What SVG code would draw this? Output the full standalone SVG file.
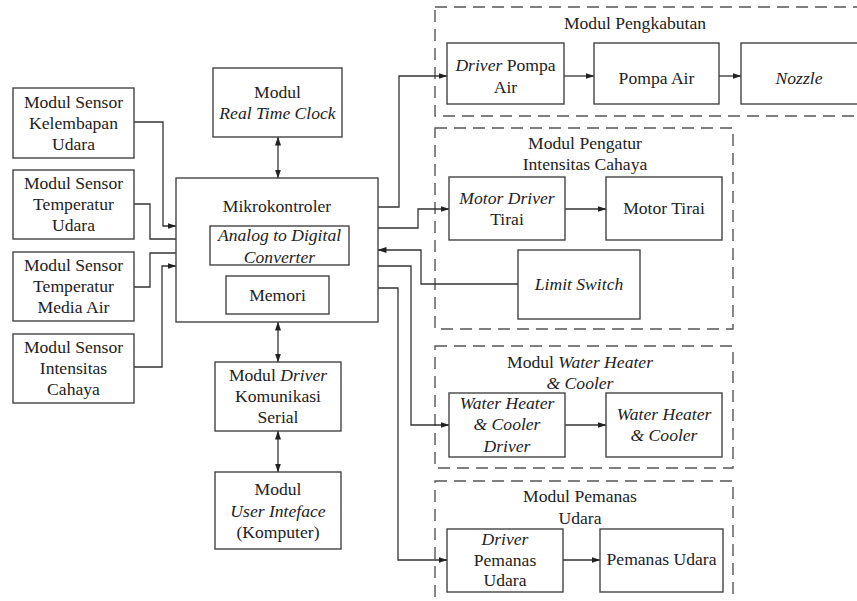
<svg xmlns="http://www.w3.org/2000/svg" width="857" height="601" viewBox="0 0 857 601">
<defs>
<marker id="ah" markerUnits="userSpaceOnUse" markerWidth="9" markerHeight="7" refX="8.5" refY="3.5" orient="auto-start-reverse">
<path d="M0,0.5 L9,3.5 L0,6.5 z" fill="#222"/>
</marker>
</defs>
<style>
.b{fill:#fff;stroke:#444;stroke-width:1.4}
.d{fill:none;stroke:#555;stroke-width:1.4;stroke-dasharray:12 7}
.c{fill:none;stroke:#333;stroke-width:1.3}
.a{marker-end:url(#ah)}
.aa{marker-start:url(#ah);marker-end:url(#ah)}
text{font-family:"Liberation Serif","Times New Roman",serif;font-size:17.6px;fill:#222;text-anchor:middle}
.i{font-style:italic}
</style>
<rect width="857" height="601" fill="#fff"/>

<g id="mod-pengkabutan">
<rect class="d" x="435" y="7" width="440" height="109"/>
<text x="635" y="29">Modul Pengkabutan</text>
</g>
<g id="mod-pengatur">
<rect class="d" x="435" y="128" width="298" height="201"/>
<text x="585" y="149">Modul Pengatur</text>
<text x="585" y="170">Intensitas Cahaya</text>
</g>
<g id="mod-waterheater">
<rect class="d" x="435" y="346" width="298" height="122"/>
<text x="580" y="368">Modul <tspan class="i">Water Heater</tspan></text>
<text x="580" y="389" class="i">&amp; Cooler</text>
</g>
<g id="mod-pemanas">
<rect class="d" x="435" y="481" width="298" height="140"/>
<text x="580" y="502">Modul Pemanas</text>
<text x="580" y="524">Udara</text>
</g>

<g id="connectors">
<polyline class="c a" points="134,122 163,122 163,226 176,226"/>
<polyline class="c a" points="134,204 150,204 150,239 210,239"/>
<polyline class="c a" points="134,287 150,287 150,253 210,253"/>
<polyline class="c a" points="134,367 162,367 162,266 176,266"/>
<line class="c aa" x1="278" y1="137" x2="278" y2="178"/>
<line class="c aa" x1="278" y1="322" x2="278" y2="362"/>
<line class="c aa" x1="278" y1="431" x2="278" y2="472"/>
<polyline class="c a" points="378,207 399,207 399,76 447,76"/>
<polyline class="c a" points="378,228 418,228 418,209 449,209"/>
<polyline class="c a" points="518,284 421,284 421,250 378,250"/>
<polyline class="c a" points="378,266 411,266 411,425 449,425"/>
<polyline class="c a" points="378,288 398,288 398,560 447,560"/>
<line class="c a" x1="564" y1="76" x2="594" y2="76"/>
<line class="c a" x1="719" y1="76" x2="741" y2="76"/>
<line class="c a" x1="565" y1="209" x2="606" y2="209"/>
<line class="c a" x1="565" y1="425" x2="606" y2="425"/>
<line class="c a" x1="563" y1="560" x2="600" y2="560"/>
</g>

<g id="sensor-kelembapan">
<rect class="b" x="13" y="88" width="121" height="70"/>
<text x="73.5" y="108">Modul Sensor</text>
<text x="73.5" y="129">Kelembapan</text>
<text x="73.5" y="150">Udara</text>
</g>
<g id="sensor-temperatur-udara">
<rect class="b" x="13" y="170" width="121" height="69"/>
<text x="73.5" y="189">Modul Sensor</text>
<text x="73.5" y="210">Temperatur</text>
<text x="73.5" y="231">Udara</text>
</g>
<g id="sensor-temperatur-air">
<rect class="b" x="13" y="252" width="121" height="69"/>
<text x="73.5" y="271">Modul Sensor</text>
<text x="73.5" y="292">Temperatur</text>
<text x="73.5" y="313">Media Air</text>
</g>
<g id="sensor-intensitas">
<rect class="b" x="13" y="334" width="121" height="69"/>
<text x="73.5" y="353">Modul Sensor</text>
<text x="73.5" y="374">Intensitas</text>
<text x="73.5" y="395">Cahaya</text>
</g>

<g id="rtc">
<rect class="b" x="213" y="68" width="129" height="69"/>
<text x="277.5" y="98">Modul</text>
<text x="277.5" y="119" class="i">Real Time Clock</text>
</g>
<g id="mikrokontroler">
<rect class="b" x="176" y="178" width="202" height="144"/>
<text x="277" y="212">Mikrokontroler</text>
</g>
<g id="adc">
<rect class="b" x="210" y="226" width="139" height="39"/>
<text x="279.5" y="241" class="i">Analog to Digital</text>
<text x="279.5" y="263" class="i">Converter</text>
</g>
<g id="memori">
<rect class="b" x="226" y="276" width="103" height="38"/>
<text x="277.5" y="301">Memori</text>
</g>
<g id="driver-komunikasi">
<rect class="b" x="215" y="362" width="126" height="69"/>
<text x="278" y="381">Modul <tspan class="i">Driver</tspan></text>
<text x="278" y="402">Komunikasi</text>
<text x="278" y="423">Serial</text>
</g>
<g id="user-interface">
<rect class="b" x="215" y="472" width="126" height="77"/>
<text x="278" y="495">Modul</text>
<text x="278" y="517" class="i">User Inteface</text>
<text x="278" y="538">(Komputer)</text>
</g>

<g id="driver-pompa">
<rect class="b" x="447" y="43" width="117" height="61"/>
<text x="505.5" y="71"><tspan class="i">Driver</tspan> Pompa</text>
<text x="505.5" y="93">Air</text>
</g>
<g id="pompa-air">
<rect class="b" x="594" y="43" width="125" height="61"/>
<text x="656.5" y="84">Pompa Air</text>
</g>
<g id="nozzle">
<rect class="b" x="741" y="43" width="120" height="61"/>
<text x="799" y="84" class="i">Nozzle</text>
</g>

<g id="motor-driver">
<rect class="b" x="449" y="177" width="116" height="63"/>
<text x="507" y="204" class="i">Motor Driver</text>
<text x="507" y="225">Tirai</text>
</g>
<g id="motor-tirai">
<rect class="b" x="606" y="177" width="116" height="63"/>
<text x="664" y="214">Motor Tirai</text>
</g>
<g id="limit-switch">
<rect class="b" x="518" y="250" width="122" height="69"/>
<text x="579" y="290" class="i">Limit Switch</text>
</g>

<g id="wh-driver">
<rect class="b" x="449" y="393" width="116" height="64"/>
<text x="507" y="409" class="i">Water Heater</text>
<text x="507" y="430" class="i">&amp; Cooler</text>
<text x="507" y="452" class="i">Driver</text>
</g>
<g id="water-heater">
<rect class="b" x="606" y="393" width="116" height="64"/>
<text x="664" y="420" class="i">Water Heater</text>
<text x="664" y="441" class="i">&amp; Cooler</text>
</g>

<g id="driver-pemanas">
<rect class="b" x="447" y="529" width="116" height="63"/>
<text x="505" y="545" class="i">Driver</text>
<text x="505" y="566">Pemanas</text>
<text x="505" y="586">Udara</text>
</g>
<g id="pemanas-udara">
<rect class="b" x="600" y="529" width="123" height="63"/>
<text x="661.5" y="565">Pemanas Udara</text>
</g>
</svg>
